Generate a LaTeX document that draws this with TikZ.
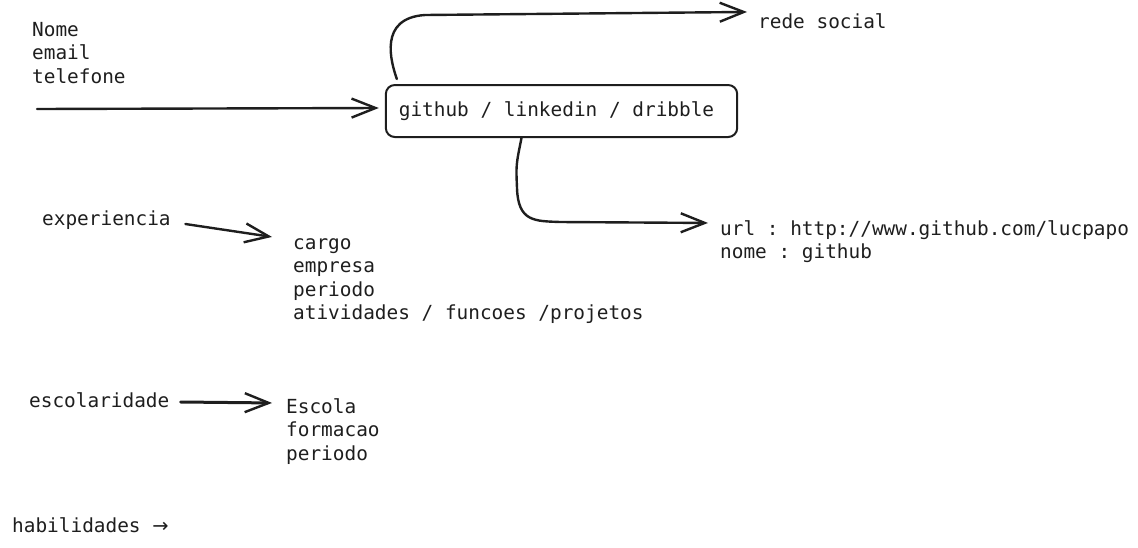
\documentclass[tikz,border=0pt]{standalone}
\usepackage{fontspec}
\setmonofont{DejaVu Sans Mono}
\newfontfamily\arrowfont{DejaVu Sans}
\usetikzlibrary{arrows.meta,calc}
\definecolor{ink}{HTML}{1E1E1E}
\tikzset{
  lbl/.style={anchor=base west, inner sep=0pt, align=left, text=ink,
    font=\ttfamily\fontsize{19.4}{23.6}\selectfont},
  arr/.style={draw=ink, line width=2.4pt, line cap=round, line join=round,
    -{Straight Barb[length=24pt,width=19pt,line width=2.4pt]}},
  boxstyle/.style={draw=ink, line width=2pt, rounded corners=9pt, inner xsep=13pt,
    minimum width=351pt, minimum height=52pt,
    text=ink, text height=14pt, text depth=4pt,
    font=\ttfamily\fontsize{19.4}{23.6}\selectfont}
}
\begin{document}
\begin{tikzpicture}[x=1pt,y=-1pt]
\useasboundingbox (0,0) rectangle (1138,547);
% texts (base anchor of a multi-line node = baseline of its last line)
\node[lbl] (contato) at (32,83.2) {Nome\\email\\telefone};
\node[boxstyle] (box) at (561.5,111) {github / linkedin / dribble\hspace*{10pt}};
\node[lbl] (rede) at (758,28) {rede social};
\node[lbl] (url) at (720,258.6) {url : http://www.github.com/lucpapo\\nome : github};
\node[lbl] (exp) at (42,225) {experiencia};
\node[lbl] (cargo) at (293,319.8) {cargo\\empresa\\periodo\\atividades / funcoes /projetos};
\node[lbl] (esc) at (29,407) {escolaridade};
\node[lbl] (escola) at (286,460.2) {Escola\\formacao\\periodo};
\node[lbl] (hab) at (12,532) {habilidades {\arrowfont →}};
% connectors
\coordinate (instart) at (37,109);
\draw[arr] (instart) -- ($(box.west)+(-6,-3)$);
\draw[arr] ($(box.north west)+(12,-5)$) .. controls (391,62) and (378,18) .. (425,15)
  -- ($(rede.north west)+(-11,-1)$);
\draw[arr] ($(box.south)+(-40,0)$) .. controls (516,165) .. (517,188)
  .. controls (518,222) and (535,221) .. (560,222) -- ($(url.north west)+(-12,3)$);
\draw[arr] ($(exp.base east)+(14.5,-1)$) -- ($(cargo.north west)+(-21,-1)$);
\draw[arr, line width=3pt] ($(esc.base east)+(11,-5)$) -- ($(escola.north west)+(-14,5)$);
\end{tikzpicture}
\end{document}
